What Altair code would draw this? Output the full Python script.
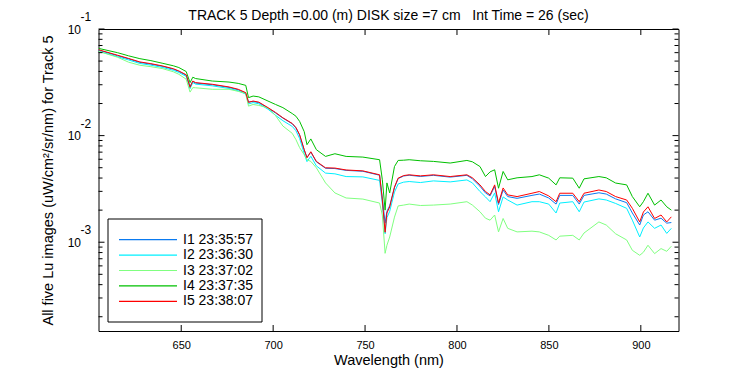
import altair as alt
import pandas as pd

wavelength = [605.2, 615.3, 621.4, 627.5, 633.5, 639.6, 645.7, 648.7, 652.7, 654.8, 656.3, 657.8, 666.9, 676.0,
              681.0, 685.1, 686.6, 689.1, 692.2, 697.2, 701.3, 705.3, 710.4, 712.4, 714.4, 716.9, 718.4, 720.5,
              723.5, 728.5, 733.6, 739.7, 748.8, 757.9, 759.4, 760.9, 761.9, 763.4, 766.0, 768.0, 771.0, 774.0,
              780.1, 787.2, 796.3, 805.4, 808.4, 812.5, 815.5, 818.0, 820.5, 822.6, 825.1, 827.6, 832.7, 840.8,
              844.8, 849.9, 853.9, 855.9, 863.0, 866.5, 869.1, 877.2, 881.2, 886.3, 892.3, 895.4, 899.4, 901.4,
              903.9, 907.5, 911.0, 914.1, 916.6]

i1 = [0.0632, 0.0562, 0.0524, 0.0486, 0.0468, 0.0447, 0.0420, 0.0400, 0.0368, 0.0290, 0.0322, 0.0311, 0.0300, 0.0283,
      0.0269, 0.0250, 0.0207, 0.0209, 0.0204, 0.0181, 0.0163, 0.0146, 0.0129, 0.0118, 0.0101, 0.00735, 0.00625, 0.00700,
      0.00568, 0.00494, 0.00491, 0.00472, 0.00463, 0.00425, 0.00260, 0.00151, 0.00195, 0.00220, 0.00325, 0.00395,
      0.00418, 0.00425, 0.00414, 0.00424, 0.00408, 0.00424, 0.00393, 0.00335, 0.00290, 0.00272, 0.00334, 0.00226,
      0.00309, 0.00268, 0.00258, 0.00275, 0.00283, 0.00260, 0.00228, 0.00275, 0.00275, 0.00228, 0.00275, 0.00291,
      0.00283, 0.00255, 0.00235, 0.00188, 0.00145, 0.00180, 0.00193, 0.00161, 0.00168, 0.00151, 0.00153]

i2 = [0.0618, 0.0550, 0.0512, 0.0475, 0.0458, 0.0437, 0.0410, 0.0391, 0.0360, 0.0275, 0.0315, 0.0304, 0.0293, 0.0277,
      0.0263, 0.0245, 0.0198, 0.0204, 0.0199, 0.0177, 0.0155, 0.0138, 0.0122, 0.0111, 0.0094, 0.0068, 0.0057, 0.0064,
      0.0052, 0.00445, 0.00438, 0.00413, 0.00410, 0.00380, 0.00230, 0.00120, 0.00170, 0.00195, 0.00295, 0.00352,
      0.00366, 0.00371, 0.00363, 0.00376, 0.00368, 0.00384, 0.00360, 0.00299, 0.00266, 0.00240, 0.00290, 0.00193,
      0.00266, 0.00249, 0.00223, 0.00240, 0.00240, 0.00228, 0.00188, 0.00233, 0.00240, 0.00193, 0.00238, 0.00255,
      0.00249, 0.00231, 0.00208, 0.00161, 0.00112, 0.00136, 0.00155, 0.00135, 0.00145, 0.00121, 0.00135]

i3 = [0.0616, 0.0544, 0.0488, 0.0457, 0.0443, 0.0426, 0.0397, 0.0376, 0.0338, 0.0256, 0.0282, 0.0281, 0.0272, 0.0272,
      0.0260, 0.0249, 0.0189, 0.0196, 0.0192, 0.0182, 0.0154, 0.0123, 0.0105, 0.00917, 0.00771, 0.00662, 0.00594,
      0.00573, 0.00499, 0.00360, 0.00290, 0.00260, 0.00254, 0.00233, 0.00180, 0.000787, 0.000937, 0.00112, 0.00172,
      0.00219, 0.00223, 0.00228, 0.00221, 0.00223, 0.00228, 0.00240, 0.00223, 0.00193, 0.00168, 0.00161, 0.00180,
      0.00125, 0.00167, 0.00135, 0.00125, 0.00127, 0.00125, 0.00116, 0.00105, 0.00114, 0.00116, 0.00105, 0.00122,
      0.00155, 0.00145, 0.00120, 0.00105, 0.000840, 0.000754, 0.000805, 0.000937, 0.000782, 0.000872, 0.000822, 0.000917]

i4 = [0.0657, 0.0600, 0.0560, 0.0527, 0.0505, 0.0478, 0.0452, 0.0435, 0.0399, 0.0314, 0.0353, 0.0343, 0.0325, 0.0318,
      0.0309, 0.0296, 0.0227, 0.0235, 0.0231, 0.0211, 0.0196, 0.0183, 0.0161, 0.0152, 0.0136, 0.0109, 0.00822, 0.00931,
      0.00738, 0.00638, 0.00676, 0.00638, 0.00629, 0.00594, 0.00385, 0.00200, 0.00360, 0.00290, 0.00513, 0.00585,
      0.00588, 0.00594, 0.00581, 0.00573, 0.00553, 0.00585, 0.00568, 0.00513, 0.00413, 0.00457, 0.00478, 0.00321,
      0.00461, 0.00385, 0.00402, 0.00413, 0.00429, 0.00399, 0.00345, 0.00402, 0.00399, 0.00321, 0.00393, 0.00413,
      0.00402, 0.00359, 0.00345, 0.00268, 0.00215, 0.00240, 0.00288, 0.00223, 0.00249, 0.00215, 0.00200]

i5 = [0.0638, 0.0568, 0.0529, 0.0491, 0.0473, 0.0451, 0.0424, 0.0404, 0.0372, 0.0284, 0.0325, 0.0314, 0.0303, 0.0286,
      0.0272, 0.0253, 0.0205, 0.0211, 0.0206, 0.0183, 0.0165, 0.0147, 0.0130, 0.0119, 0.0102, 0.00738, 0.00620, 0.00706,
      0.00573, 0.00499, 0.00496, 0.00476, 0.00467, 0.00429, 0.00249, 0.00124, 0.00188, 0.00214, 0.00330, 0.00399,
      0.00422, 0.00429, 0.00419, 0.00429, 0.00413, 0.00429, 0.00402, 0.00345, 0.00299, 0.00278, 0.00345, 0.00233,
      0.00323, 0.00278, 0.00268, 0.00288, 0.00299, 0.00272, 0.00240, 0.00288, 0.00288, 0.00240, 0.00288, 0.00309,
      0.00299, 0.00268, 0.00249, 0.00208, 0.00155, 0.00192, 0.00215, 0.00167, 0.00180, 0.00155, 0.00173]

series_names = ["I1 23:35:57", "I2 23:36:30", "I3 23:37:02", "I4 23:37:35", "I5 23:38:07"]
series_colors = ["#0a7af0", "#00f0ff", "#80ff80", "#00c000", "#ff0000"]

x_ticks = [650, 700, 750, 800, 850, 900]
y_major = [0.1, 0.01, 0.001]
y_exponents = ["-1", "-2", "-3"]
y_minor = [0.09, 0.08, 0.07, 0.06, 0.05, 0.04, 0.03, 0.02,
           0.009, 0.008, 0.007, 0.006, 0.005, 0.004, 0.003, 0.002,
           0.0009, 0.0008, 0.0007, 0.0006, 0.0005, 0.0004, 0.0003, 0.0002]

X_DOMAIN = [605, 920.5]
Y_DOMAIN = [1.47e-4, 0.1]
W, H = 580, 302
FONT = "Liberation Sans"

rows = []
for name, vals in zip(series_names, [i1, i2, i3, i4, i5]):
    for w, v in zip(wavelength, vals):
        rows.append({"wl": w, "val": v, "series": name})
df = pd.DataFrame(rows)

xs = alt.Scale(domain=X_DOMAIN, nice=False, zero=False)
ys = alt.Scale(type="log", domain=Y_DOMAIN, nice=False)
cs = alt.Scale(domain=series_names, range=series_colors)
x_axis = alt.Axis(values=x_ticks, ticks=False, domain=False, grid=False, labelFontSize=11,
                  labelPadding=8, titlePadding=3, format="d")

lines = alt.Chart(df).mark_line(strokeWidth=1).encode(
    x=alt.X("wl:Q", scale=xs, title="Wavelength (nm)", axis=x_axis),
    y=alt.Y("val:Q", scale=ys, title="All five Lu images (uW/cm\u00b2/sr/nm) for Track 5",
            axis=alt.Axis(values=y_major, labelExpr="'10'", ticks=False, domain=False, grid=False,
                          labelFontSize=12, labelPadding=18, titlePadding=12)),
    color=alt.Color("series:N", scale=cs, legend=None),
)

xdf = pd.DataFrame({"wl": x_ticks})
xtick_bottom = alt.Chart(xdf).mark_rule(color="black").encode(
    x=alt.X("wl:Q", scale=xs, title="Wavelength (nm)", axis=x_axis), y=alt.value(H), y2=alt.value(H - 6))
xtick_top = alt.Chart(xdf).mark_rule(color="black").encode(
    x=alt.X("wl:Q", scale=xs, title="Wavelength (nm)", axis=x_axis), y=alt.value(0), y2=alt.value(6))

ymaj = pd.DataFrame({"val": y_major, "exp": y_exponents, "wl": [X_DOMAIN[0]] * 3})
ymin = pd.DataFrame({"val": y_minor})
ytick_left = alt.Chart(ymaj).mark_rule(color="black").encode(
    y=alt.Y("val:Q", scale=ys, axis=None), x=alt.value(0), x2=alt.value(6))
ytick_right = alt.Chart(ymaj).mark_rule(color="black").encode(
    y=alt.Y("val:Q", scale=ys, axis=None), x=alt.value(W), x2=alt.value(W - 6))
ymin_left = alt.Chart(ymin).mark_rule(color="black").encode(
    y=alt.Y("val:Q", scale=ys, axis=None), x=alt.value(0), x2=alt.value(4))
ymin_right = alt.Chart(ymin).mark_rule(color="black").encode(
    y=alt.Y("val:Q", scale=ys, axis=None), x=alt.value(W), x2=alt.value(W - 4))

exps = alt.Chart(ymaj).mark_text(align="left", baseline="middle", dx=-18, dy=-12,
                                 font=FONT, fontSize=12, color="black").encode(
    x=alt.X("wl:Q", scale=xs, title="Wavelength (nm)", axis=x_axis),
    y=alt.Y("val:Q", scale=ys, axis=None), text="exp:N")

# legend (box, colour lines, labels)
leg_df = pd.DataFrame({"series": series_names})
box_df = pd.DataFrame({"k": [0]})
leg_y = alt.Y("series:N", scale=alt.Scale(type="point", domain=series_names, range=[203, 280]), axis=None)
leg_box = alt.Chart(box_df).mark_rect(fill="white", stroke="black", strokeWidth=1).encode(
    x=alt.value(9.5), x2=alt.value(163.5), y=alt.value(190), y2=alt.value(293))
leg_lines = alt.Chart(leg_df).mark_rule(strokeWidth=1.2).encode(
    y=leg_y, x=alt.value(20.5), x2=alt.value(78.5), color=alt.Color("series:N", scale=cs, legend=None))
leg_text = alt.Chart(leg_df).mark_text(align="left", baseline="middle", font=FONT, fontSize=14,
                                       color="black").encode(
    y=leg_y, x=alt.value(84.5), text="series:N")

chart = alt.layer(lines, xtick_bottom, xtick_top, ytick_left, ytick_right, ymin_left, ymin_right, exps,
                  leg_box, leg_lines, leg_text).resolve_scale(y="independent").properties(
    width=W, height=H,
    title=alt.TitleParams("TRACK 5 Depth =0.00 (m) DISK size =7 cm\u00a0\u00a0\u00a0Int Time = 26 (sec)",
                          font=FONT, fontSize=14, fontWeight="normal", anchor="middle", frame="group",
                          offset=0, dy=12, color="black"),
    autosize=alt.AutoSizeParams(type="none"),
    padding={"left": 90.5, "top": 21, "right": 50, "bottom": 44},
    background="white",
).configure_view(stroke="black", strokeWidth=1).configure_axis(
    labelFont=FONT, labelColor="black", titleFont=FONT, titleFontSize=14.5,
    titleFontWeight="normal", titleColor="black"
)

chart.save("out.html", embed_options={"renderer": "svg", "actions": False})
